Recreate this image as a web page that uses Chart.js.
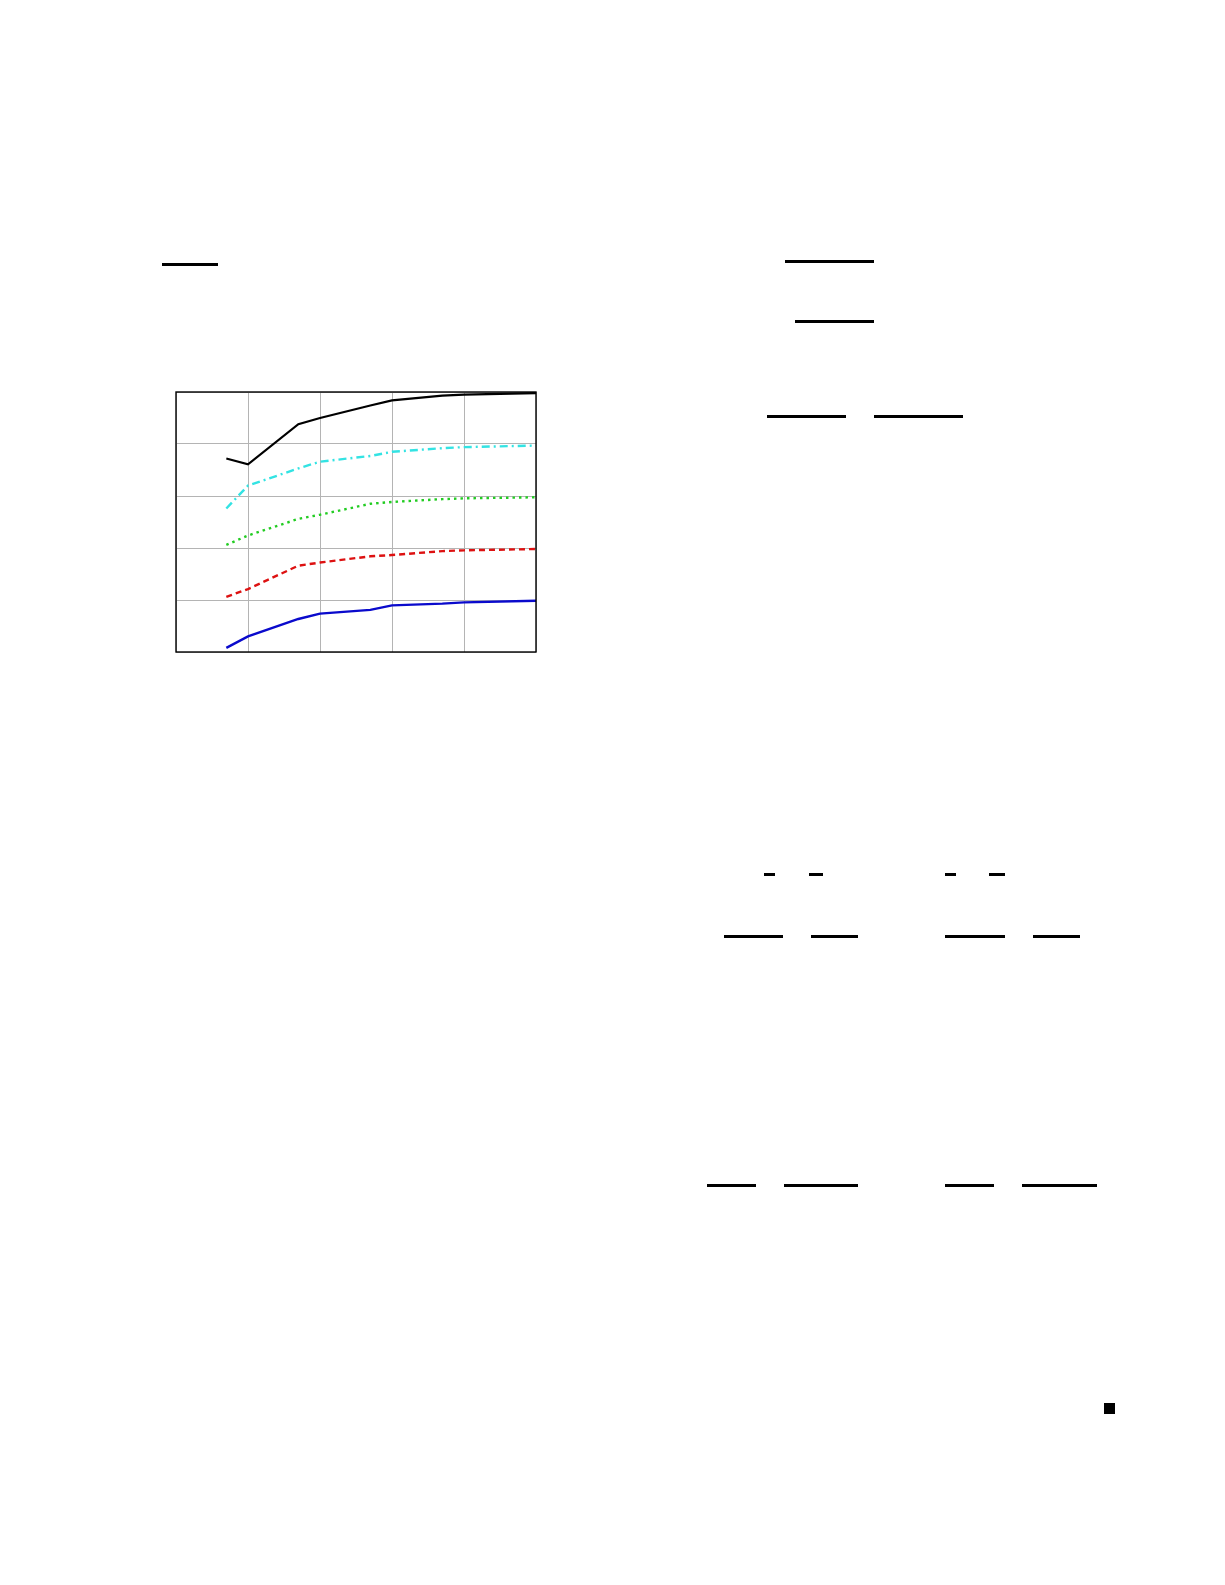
<!DOCTYPE html>
<html>
<head>
<meta charset="utf-8">
<script src="https://cdn.jsdelivr.net/npm/chart.js@4.4.1/dist/chart.umd.min.js"></script>
<style>
  body { margin: 0; background: #fff; width: 1225px; height: 1585px; position: relative; overflow: hidden; }
  #wrap { position: absolute; left: 166px; top: 382px; width: 380px; height: 280px; }
  .bar { position: absolute; height: 2.5px; background: #000; }
  .qed { position: absolute; left: 1104px; top: 1403px; width: 11px; height: 11px; background: #000; }
</style>
</head>
<body>
<!-- fraction bars left over on the page -->
<div class="bar" style="left:162px;top:263px;width:56px"></div>
<div class="bar" style="left:785px;top:260px;width:89px"></div>
<div class="bar" style="left:795px;top:320px;width:79px"></div>
<div class="bar" style="left:767px;top:415px;width:79px"></div>
<div class="bar" style="left:874px;top:415px;width:89px"></div>
<div class="bar" style="left:764px;top:873px;width:11px"></div>
<div class="bar" style="left:809px;top:873px;width:14px"></div>
<div class="bar" style="left:945px;top:873px;width:11px"></div>
<div class="bar" style="left:989px;top:873px;width:16px"></div>
<div class="bar" style="left:724px;top:935px;width:59px"></div>
<div class="bar" style="left:811px;top:935px;width:47px"></div>
<div class="bar" style="left:945px;top:935px;width:60px"></div>
<div class="bar" style="left:1033px;top:935px;width:47px"></div>
<div class="bar" style="left:707px;top:1184px;width:49px"></div>
<div class="bar" style="left:784px;top:1184px;width:74px"></div>
<div class="bar" style="left:945px;top:1184px;width:49px"></div>
<div class="bar" style="left:1022px;top:1184px;width:75px"></div>
<div class="qed"></div>

<div id="wrap"><canvas id="lineChart"></canvas></div>

<script>
var xValues = [5, 10, 50, 100, 500, 1000, 5000, 10000, 100000];

var blackSeries = [3.72, 3.61, 4.38, 4.50, 4.74, 4.84, 4.93, 4.95, 4.98];
var cyanSeries  = [2.76, 3.20, 3.53, 3.66, 3.77, 3.85, 3.92, 3.94, 3.97];
var greenSeries = [2.06, 2.24, 2.56, 2.64, 2.85, 2.885, 2.94, 2.955, 2.975];
var redSeries   = [1.06, 1.21, 1.66, 1.72, 1.84, 1.865, 1.94, 1.955, 1.98];
var blueSeries  = [0.08, 0.30, 0.635, 0.737, 0.81, 0.896, 0.93, 0.954, 0.986];

var xGridTicks = [1, 10, 100, 1000, 10000, 100000];

function pts(ys) {
    return ys.map(function (y, i) { return { x: xValues[i], y: y }; });
}

// black frame round the plot area
var frame = {
    id: 'frame',
    afterDraw: function (chart) {
        var a = chart.chartArea, c = chart.ctx;
        c.save();
        c.strokeStyle = '#000';
        c.lineWidth = 1.4;
        c.strokeRect(a.left, a.top, a.right - a.left, a.bottom - a.top);
        c.restore();
    }
};

var ctx = document.getElementById('lineChart').getContext('2d');
var lineChart = new Chart(ctx, {
    type: 'line',
    data: {
        datasets: [
            { data: pts(blackSeries), borderColor: '#000000', borderWidth: 2.2 },
            { data: pts(cyanSeries),  borderColor: '#33e3e3', borderWidth: 2.4, borderDash: [8, 4, 2, 4] },
            { data: pts(greenSeries), borderColor: '#22cc22', borderWidth: 2.4, borderDash: [2.5, 4] },
            { data: pts(redSeries),   borderColor: '#dd1111', borderWidth: 2.4, borderDash: [6, 4] },
            { data: pts(blueSeries),  borderColor: '#0a0acc', borderWidth: 2.4 }
        ]
    },
    options: {
        responsive: true,
        maintainAspectRatio: false,
        animation: false,
        layout: { padding: 10 },
        elements: {
            point: { radius: 0 },
            line: { tension: 0, fill: false }
        },
        plugins: {
            legend: { display: false },
            tooltip: { enabled: false }
        },
        scales: {
            x: {
                type: 'logarithmic',
                min: 1,
                max: 100000,
                afterBuildTicks: function (axis) {
                    axis.ticks = xGridTicks.map(function (v) { return { value: v }; });
                },
                ticks: { display: false },
                grid: { color: '#b4b4b4', lineWidth: 1, drawTicks: false },
                border: { display: false }
            },
            y: {
                min: 0,
                max: 5,
                ticks: { display: false, stepSize: 1 },
                grid: { color: '#b4b4b4', lineWidth: 1, drawTicks: false },
                border: { display: false }
            }
        }
    },
    plugins: [frame]
});
</script>
</body>
</html>
